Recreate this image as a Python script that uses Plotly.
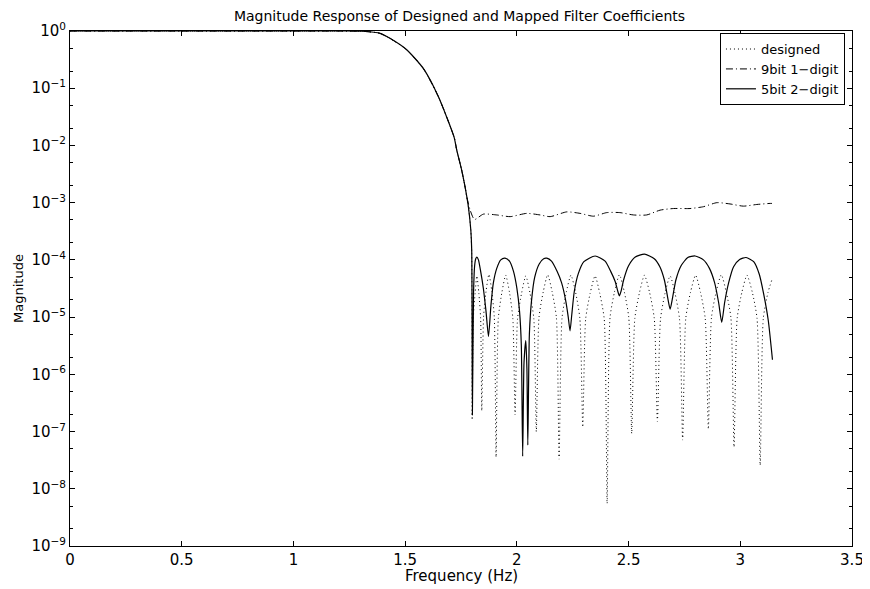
import numpy as np
import plotly.graph_objects as go

# ---- shared passband / transition ----
trans_f = [0.0, 0.5, 1.0, 1.2, 1.28, 1.31, 1.388, 1.432, 1.507, 1.582, 1.649, 1.719, 1.731, 1.753, 1.768]
trans_m = [1.0, 1.0, 1.0, 1.0, 0.998, 0.99, 0.91, 0.745, 0.47, 0.22, 0.071, 0.014, 8.3e-3, 3.7e-3, 1.9e-3]

# ---- designed (dotted) stopband ----
des_f = [1.783, 1.794, 1.798, 1.800,
         1.805, 1.813, 1.821, 1.830, 1.838, 1.843,
         1.851, 1.862, 1.875, 1.888, 1.899, 1.907,
         1.917, 1.933, 1.950, 1.967, 1.982, 1.992,
         2.003, 2.021, 2.040, 2.059, 2.076, 2.087,
         2.099, 2.118, 2.138, 2.158, 2.177, 2.189,
         2.202, 2.221, 2.242, 2.263, 2.282, 2.295,
         2.308, 2.328, 2.350, 2.371, 2.391, 2.404,
         2.417, 2.437, 2.459, 2.481, 2.501, 2.514,
         2.528, 2.549, 2.571, 2.594, 2.615, 2.629,
         2.643, 2.663, 2.686, 2.708, 2.728, 2.742,
         2.756, 2.777, 2.800, 2.822, 2.843, 2.857,
         2.871, 2.892, 2.915, 2.937, 2.958, 2.972,
         2.986, 3.007, 3.030, 3.054, 3.075, 3.089,
         3.103, 3.124, 3.1416]
des_m = [8.5e-4, 3.3e-4, 1.3e-4, 1.6e-7,
         9.3e-6, 2.6e-5, 5.25e-5, 2.6e-5, 9.3e-6, 2.3e-7,
         1.0e-5, 2.8e-5, 5.6e-5, 2.8e-5, 1.0e-5, 3.6e-8,
         9.5e-6, 2.7e-5, 5.4e-5, 2.7e-5, 9.5e-6, 1.95e-7,
         9.3e-6, 2.6e-5, 5.25e-5, 2.6e-5, 9.3e-6, 1.0e-7,
         9.8e-6, 2.75e-5, 5.5e-5, 2.75e-5, 9.8e-6, 3.3e-8,
         9.5e-6, 2.7e-5, 5.4e-5, 2.7e-5, 9.5e-6, 1.2e-7,
         9.3e-6, 2.6e-5, 5.25e-5, 2.6e-5, 9.3e-6, 5.5e-9,
         9.8e-6, 2.75e-5, 5.5e-5, 2.75e-5, 9.8e-6, 9.3e-8,
         9.5e-6, 2.7e-5, 5.4e-5, 2.7e-5, 9.5e-6, 1.5e-7,
         9.3e-6, 2.6e-5, 5.25e-5, 2.6e-5, 9.3e-6, 7.1e-8,
         9.5e-6, 2.7e-5, 5.4e-5, 2.7e-5, 9.5e-6, 1.1e-7,
         9.8e-6, 2.75e-5, 5.5e-5, 2.75e-5, 9.8e-6, 5.4e-8,
         9.5e-6, 2.7e-5, 5.4e-5, 2.7e-5, 9.5e-6, 2.6e-8,
         9.5e-6, 2.7e-5, 4.5e-5]

# ---- 9bit 1-digit (dash-dot) stopband ----
b9_f = [1.776, 1.790, 1.805, 1.813, 1.850, 1.910, 1.970, 2.044, 2.104, 2.149, 2.223,
        2.283, 2.343, 2.402, 2.462, 2.522, 2.581, 2.641, 2.701, 2.775, 2.835,
        2.895, 2.954, 3.014, 3.074, 3.133, 3.1416]
b9_m = [1.26e-3, 7.6e-4, 5.4e-4, 5.1e-4, 6.3e-4, 6.1e-4, 5.7e-4, 6.5e-4, 6.1e-4, 5.7e-4, 6.9e-4,
        6.5e-4, 5.8e-4, 6.7e-4, 6.7e-4, 6.1e-4, 6.1e-4, 7.4e-4, 7.9e-4, 7.9e-4, 8.5e-4,
        1.0e-3, 9.5e-4, 8.7e-4, 9.3e-4, 9.7e-4, 9.7e-4]

# ---- 5bit 2-digit (solid) stopband ----
b5_f = [1.783, 1.794, 1.798, 1.801, 1.806, 1.811, 1.816, 1.821, 1.828, 1.838, 1.850, 1.862, 1.873,
        1.884, 1.895, 1.910, 1.928, 1.947, 1.967, 1.985, 2.000, 2.012, 2.020, 2.026,
        2.032, 2.040, 2.045, 2.049, 2.056, 2.066, 2.080, 2.100, 2.120, 2.134,
        2.155, 2.180, 2.200, 2.218, 2.230, 2.238, 2.246, 2.257, 2.275, 2.300, 2.350,
        2.395, 2.420, 2.440, 2.452, 2.459, 2.466, 2.478, 2.500, 2.530, 2.571,
        2.615, 2.640, 2.660, 2.675, 2.686, 2.697, 2.712, 2.735, 2.765, 2.798,
        2.835, 2.862, 2.885, 2.903, 2.917, 2.930, 2.948, 2.970, 2.997, 3.026,
        3.060, 3.085, 3.105, 3.125, 3.144]
b5_m = [8.5e-4, 3.3e-4, 1.48e-4, 1.95e-7, 2.5e-5, 7.9e-5, 1.05e-4, 1.12e-4, 1.0e-4, 6.3e-5, 3.2e-5, 1.26e-5, 4.6e-6,
        1.6e-5, 4.0e-5, 7.1e-5, 1.0e-4, 1.07e-4, 9.5e-5, 6.3e-5, 3.2e-5, 1.26e-5, 3.2e-6, 3.7e-8,
        1.6e-6, 3.9e-6, 1.26e-6, 5.8e-8, 5.0e-6, 2.0e-5, 5.0e-5, 8.5e-5, 1.05e-4, 1.07e-4,
        9.5e-5, 6.3e-5, 4.0e-5, 2.0e-5, 1.0e-5, 5.75e-6, 1.12e-5, 2.8e-5, 5.75e-5, 9.3e-5, 1.17e-4,
        9.5e-5, 6.3e-5, 4.2e-5, 2.8e-5, 2.35e-5, 2.8e-5, 4.5e-5, 7.9e-5, 1.12e-4, 1.26e-4,
        1.05e-4, 7.6e-5, 4.5e-5, 2.2e-5, 1.38e-5, 2.2e-5, 4.5e-5, 7.9e-5, 1.1e-4, 1.17e-4,
        1.0e-4, 7.1e-5, 4.0e-5, 1.8e-5, 8.1e-6, 1.8e-5, 4.0e-5, 7.6e-5, 1.02e-4, 1.1e-4,
        9.3e-5, 5.6e-5, 2.5e-5, 8.9e-6, 1.8e-6]

series_names = ["designed", "9bit 1\u2212digit", "5bit 2\u2212digit"]
y_tick_vals = [1e-9, 1e-8, 1e-7, 1e-6, 1e-5, 1e-4, 1e-3, 1e-2, 1e-1, 1e0]
y_tick_text = ["10<sup>\u22129</sup>", "10<sup>\u22128</sup>", "10<sup>\u22127</sup>",
               "10<sup>\u22126</sup>", "10<sup>\u22125</sup>", "10<sup>\u22124</sup>",
               "10<sup>\u22123</sup>", "10<sup>\u22122</sup>", "10<sup>\u22121</sup>",
               "10<sup>0</sup>"]
x_tick_vals = [0, 0.5, 1, 1.5, 2, 2.5, 3, 3.5]
x_tick_text = ["0", "0.5", "1", "1.5", "2", "2.5", "3", "3.5"]

FONT = "DejaVu Sans, Liberation Sans, Arial, sans-serif"

# The page body has an 8px margin; margins below compensate so that the
# plot area lands at x 70..852, y 31..546 in the window.
W, H = 870, 589
ML, MT, MR, MB = 62, 23, 26, 51
PLOT_H = H - MT - MB

fig = go.Figure()
fig.add_trace(go.Scatter(x=trans_f + des_f, y=trans_m + des_m, mode="lines",
                         name=series_names[0],
                         line=dict(color="black", width=1, dash="1px,3px", shape="spline", smoothing=0.6)))
fig.add_trace(go.Scatter(x=trans_f + b9_f, y=trans_m + b9_m, mode="lines",
                         name=series_names[1],
                         line=dict(color="black", width=1, dash="7px,3px,1px,3px", shape="spline", smoothing=0.6)))
fig.add_trace(go.Scatter(x=trans_f + b5_f, y=trans_m + b5_m, mode="lines",
                         name=series_names[2],
                         line=dict(color="black", width=1.2, shape="spline", smoothing=0.6)))

fig.update_layout(
    width=W, height=H,
    margin=dict(l=ML, r=MR, t=MT, b=MB, autoexpand=False),
    paper_bgcolor="white", plot_bgcolor="white",
    font=dict(family=FONT, color="black", size=13),
    title=dict(text="Magnitude Response of Designed and Mapped Filter Coefficients",
               x=0.519, xanchor="center", y=1 - 8 / H, yanchor="middle",
               font=dict(size=14, family=FONT)),
    showlegend=True,
    legend=dict(x=0.991, xanchor="right", y=0.996, yanchor="top",
                bgcolor="white", bordercolor="black", borderwidth=1,
                font=dict(size=13, family=FONT), tracegroupgap=0,
                itemwidth=30),
    annotations=[dict(text="Frequency (Hz)", xref="paper", yref="paper",
                      x=0.5, y=-30 / PLOT_H, xanchor="center", yanchor="middle",
                      showarrow=False, font=dict(size=15, family=FONT))],
)
fig.update_xaxes(range=[0, 3.5], tickvals=x_tick_vals, ticktext=x_tick_text,
                 ticks="inside", ticklen=5, tickcolor="black",
                 showline=True, linecolor="black", linewidth=1, mirror="ticks",
                 showgrid=False, zeroline=False, automargin=False,
                 tickfont=dict(size=15))
fig.update_yaxes(type="log", range=[-9, 0], tickvals=y_tick_vals, ticktext=y_tick_text,
                 ticks="inside", ticklen=5, tickcolor="black",
                 showline=True, linecolor="black", linewidth=1, mirror="ticks",
                 showgrid=False, zeroline=False, automargin=False,
                 minor=dict(ticks="inside", ticklen=3, tickcolor="black", showgrid=False),
                 title=dict(text="Magnitude", font=dict(size=13), standoff=4),
                 tickfont=dict(size=15))

fig.write_html("out.html")
